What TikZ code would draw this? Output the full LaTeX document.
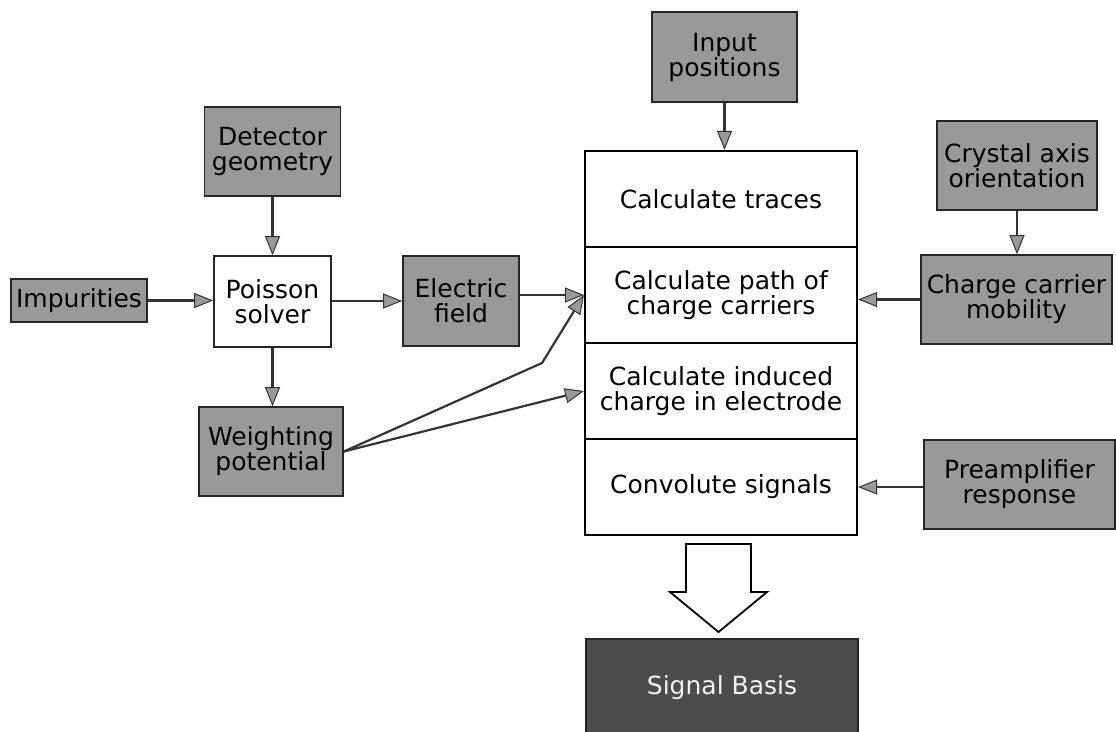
\documentclass[tikz,border=0pt]{standalone}
\usepackage{fontspec}
\setmainfont{DejaVu Sans}
\usetikzlibrary{arrows.meta}

\begin{document}
\begin{tikzpicture}[x=1pt,y=-1pt,
    box/.style={draw=black!85,line width=1.6pt,fill=black!40,align=center,
        font=\fontsize{25}{25}\selectfont,inner sep=0pt},
    stage/.style={draw=black,line width=2.2pt,fill=white,align=center,
        font=\fontsize{25}{25}\selectfont,inner sep=0pt,
        minimum width=272pt,minimum height=96pt},
    flow/.style={draw=black!80,line width=2.2pt,
        -{Triangle[length=19pt,width=15pt,fill=black!40,line width=1pt]}}]
    \useasboundingbox (0,0) rectangle (1116,731);
    % inputs
    \node[box,minimum width=145pt,minimum height=90pt] (input) at (724.5,57) {Input\\positions};
    \node[box,minimum width=136pt,minimum height=89pt] (geom) at (272.5,151.5) {Detector\\geometry};
    \node[box,minimum width=136pt,minimum height=43pt] (imp) at (79,300.5) {Impurities};
    \node[box,fill=white,minimum width=117pt,minimum height=91pt] (poisson) at (272.5,301.5) {Poisson\\solver};
    \node[box,minimum width=116pt,minimum height=90pt] (efield) at (461,301) {Electric\\field};
    \node[box,minimum width=144pt,minimum height=89pt] (wpot) at (271,451.5) {Weighting\\potential};
    \node[box,minimum width=160pt,minimum height=89pt] (crystal) at (1017,165.5) {Crystal axis\\orientation};
    \node[box,minimum width=191pt,minimum height=89pt] (mobility) at (1016.5,299.5) {Charge carrier\\mobility};
    \node[box,minimum width=191pt,minimum height=89pt] (preamp) at (1019.5,484.5) {Preamplifier\\response};
    % main column
    \foreach \nm/\yy/\txt in {traces/199/{Calculate traces},
        path/295/{Calculate path of\\charge carriers},
        induced/391/{Calculate induced\\charge in electrode},
        signals/487/{Convolute signals}}{
        \node[stage] (\nm) at (721,\yy) {\txt};
    }
    \node[box,fill=black!70,text=black!5,minimum width=272pt,minimum height=98pt] (basis) at (722,688) {Signal Basis};
    \draw[line width=1.8pt,fill=white](686,544)--(751,544)--(751,592)--(767,592)
        --(718.5,632)--(670,592)--(686,592)--cycle;
    % connectors
    \coordinate (bend) at (542,363);
    \draw[flow](imp.east)--(imp.east -| poisson.west);
    \draw[flow](geom.south)--(geom.south |- poisson.north);
    \draw[flow](poisson.east |- efield.west)--(efield.west);
    \draw[flow](poisson.south)--(poisson.south |- wpot.north);
    \draw[flow](efield.east |- path.west)--(path.west);
    \draw[flow](wpot.east)--(bend)--(path.west);
    \draw[flow](wpot.east)--(induced.west);
    \draw[flow](input.south)--(input.south |- traces.north);
    \draw[flow](crystal.south)--(crystal.south |- mobility.north);
    \draw[flow](mobility.west)--(mobility.west -| path.east);
    \draw[flow](preamp.west |- signals.east)--(signals.east);
\end{tikzpicture}
\end{document}
